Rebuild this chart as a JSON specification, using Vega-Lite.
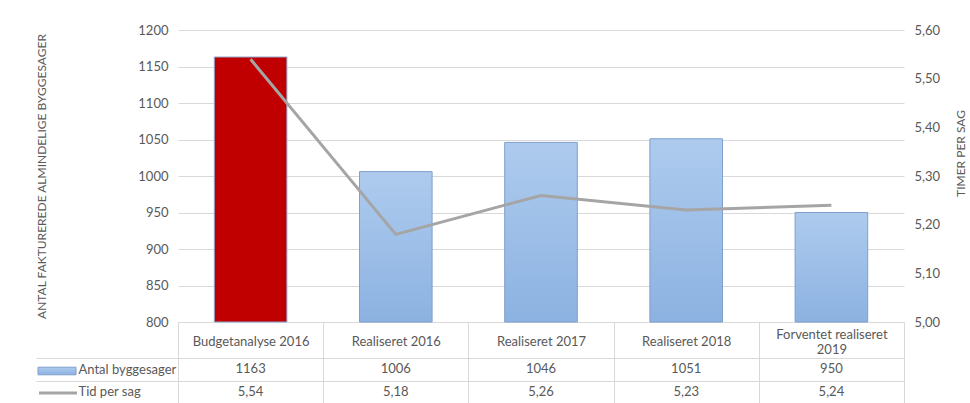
{
  "$schema": "https://vega.github.io/schema/vega-lite/v6.json",
  "padding": {"left": 34, "top": 24, "right": 0, "bottom": 0},
  "background": "white",
  "bounds": "flush",
  "spacing": 36,
  "config": {
    "locale": {"number": {"decimal": ",", "thousands": ".", "grouping": [3], "currency": ["", " kr."]}},
    "font": "Lato",
    "view": {"stroke": null},
    "axis": {"labelColor": "#595959", "titleColor": "#595959", "labelFont": "Lato", "titleFont": "Lato", "labelFontSize": 13}
  },
  "datasets": {
    "d": [
      {"kategori": "Budgetanalyse 2016", "antal": 1163, "tid": 5.54},
      {"kategori": "Realiseret 2016", "antal": 1006, "tid": 5.18},
      {"kategori": "Realiseret 2017", "antal": 1046, "tid": 5.26},
      {"kategori": "Realiseret 2018", "antal": 1051, "tid": 5.23},
      {"kategori": "Forventet realiseret 2019", "antal": 950, "tid": 5.24}
    ]
  },
  "vconcat": [
    {
      "width": 726,
      "height": 292,
      "data": {"name": "d"},
      "encoding": {
        "x": {
          "field": "kategori", "type": "nominal", "sort": null,
          "scale": {"paddingInner": 0, "paddingOuter": 0},
          "axis": {
            "title": null, "labelAngle": 0, "tickBand": "extent", "tickSize": 36,
            "tickColor": "#D9D9D9", "domainColor": "#D9D9D9",
            "labelPadding": {"condition": {"test": "datum.value == 'Forventet realiseret 2019'", "value": -24}, "value": -17},
            "labelBaseline": "middle", "labelLineHeight": 15, "labelOverlap": false,
            "labelExpr": "datum.value == 'Forventet realiseret 2019' ? ['Forventet realiseret', '2019'] : datum.value"
          }
        }
      },
      "layer": [
        {
          "encoding": {
            "y": {
              "field": "antal", "type": "quantitative",
              "scale": {"domain": [800, 1200], "zero": false, "nice": false},
              "axis": {
                "title": "ANTAL FAKTUREREDE ALMINDELIGE BYGGESAGER",
                "values": [800, 850, 900, 950, 1000, 1050, 1100, 1150, 1200],
                "format": "d", "grid": true, "gridColor": "#D9D9D9", "ticks": false, "domain": false,
                "labelOverlap": false,
                "labelPadding": 10, "titleFontSize": 12, "titleFontWeight": "normal",
                "titleX": -137, "titleY": 146, "titleBaseline": "middle"
              }
            },
            "y2": {"datum": 800}
          },
          "layer": [
            {
              "transform": [{"filter": "datum.kategori == 'Budgetanalyse 2016'"}],
              "mark": {"type": "bar", "width": {"band": 0.5}, "fill": "#C00000", "stroke": "#8EA9D1", "strokeWidth": 1}
            },
            {
              "transform": [{"filter": "datum.kategori != 'Budgetanalyse 2016'"}],
              "mark": {
                "type": "bar", "width": {"band": 0.5}, "strokeWidth": 1,
                "fill": {"gradient": "linear", "x1": 0, "y1": 0, "x2": 0, "y2": 1, "stops": [{"offset": 0, "color": "#AECBEE"}, {"offset": 1, "color": "#8CB2E1"}]}
              },
              "encoding": {
                "stroke": {
                  "datum": "Antal byggesager", "type": "nominal",
                  "scale": {"range": ["#7F9FCC"]},
                  "legend": {
                    "orient": "none", "legendX": -140.5, "legendY": 321.5, "title": null,
                    "symbolType": "M-1,-0.2H1V0.2H-1Z", "symbolSize": 1444,
                    "symbolFillColor": "#9DBFE7", "symbolStrokeColor": "#7F9FCC", "symbolStrokeWidth": 1,
                    "labelExpr": "''", "padding": 0
                  }
                }
              }
            }
          ]
        },
        {
          "mark": {"type": "line", "strokeWidth": 3},
          "encoding": {
            "y": {
              "field": "tid", "type": "quantitative",
              "scale": {"domain": [5.0, 5.6], "zero": false, "nice": false},
              "axis": {
                "orient": "right", "title": "TIMER PER SAG",
                "values": [5.0, 5.1, 5.2, 5.3, 5.4, 5.5, 5.6],
                "format": ".2f", "grid": false, "ticks": false, "domain": false,
                "labelOverlap": false,
                "labelPadding": 10, "titleFontSize": 12, "titleFontWeight": "normal",
                "titleAngle": 270, "titleX": 56, "titleY": 123, "titleBaseline": "middle"
              }
            },
            "stroke": {
              "datum": "Tid per sag", "type": "nominal",
              "scale": {"range": ["#A5A5A5"]},
              "legend": {
                "orient": "none", "legendX": -140.5, "legendY": 342.5, "title": null,
                "symbolType": "stroke", "symbolSize": 1444, "symbolStrokeWidth": 3,
                "labelExpr": "''", "padding": 0
              }
            }
          }
        }
      ],
      "resolve": {"scale": {"y": "independent", "stroke": "independent"}}
    },
    {
      "width": 726,
      "height": 45,
      "data": {"name": "d"},
      "encoding": {
        "x": {
          "field": "kategori", "type": "nominal", "sort": null,
          "scale": {"paddingInner": 0, "paddingOuter": 0},
          "axis": {"title": null, "labels": false, "ticks": false, "domain": false, "grid": true, "tickBand": "extent", "gridColor": "#D9D9D9"}
        }
      },
      "layer": [
        {
          "mark": {"type": "text", "fontSize": 13, "color": "#595959", "font": "Lato"},
          "encoding": {
            "y": {
              "datum": "Antal byggesager", "type": "nominal",
              "scale": {"domain": ["Antal byggesager", "Tid per sag"], "paddingInner": 0, "paddingOuter": 0},
              "axis": {
                "title": null, "grid": true, "gridColor": "#D9D9D9", "tickBand": "extent",
                "tickSize": 142, "tickColor": "#D9D9D9", "domain": false,
                "labelAlign": "left", "labelPadding": -42
              }
            },
            "text": {"field": "antal", "type": "quantitative", "format": "d"}
          }
        },
        {
          "mark": {"type": "text", "fontSize": 13, "color": "#595959", "font": "Lato"},
          "encoding": {
            "y": {"datum": "Tid per sag", "type": "nominal"},
            "text": {"field": "tid", "type": "quantitative", "format": ".2f"}
          }
        }
      ]
    }
  ]
}
